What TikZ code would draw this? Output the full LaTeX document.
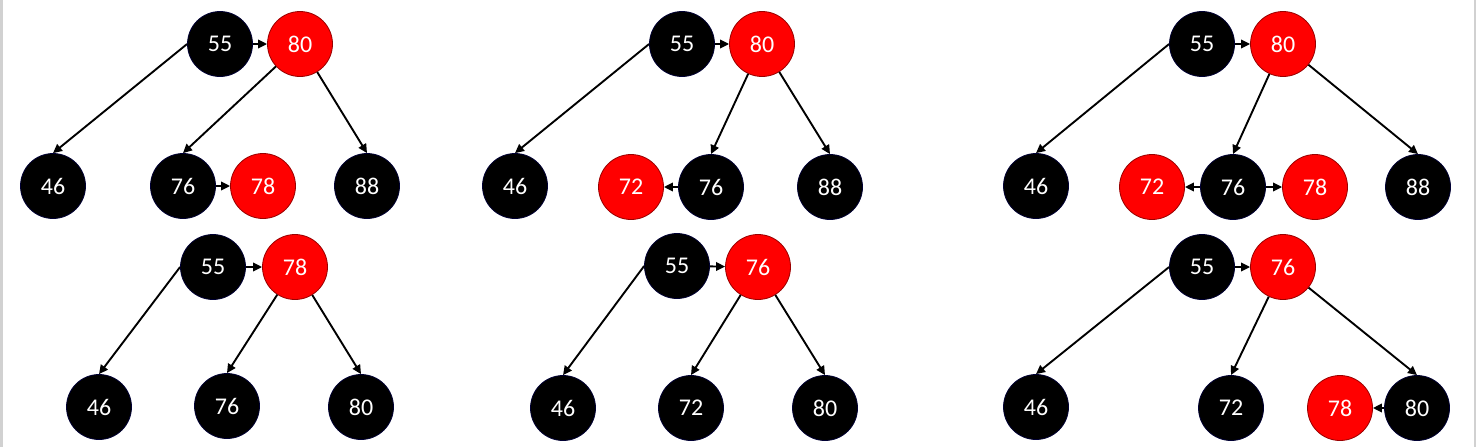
\documentclass[tikz,border=0pt]{standalone}
\usepackage{fontspec}
\setmainfont{Carlito}
\usetikzlibrary{arrows.meta}
\begin{document}
\begin{tikzpicture}[x=1pt,y=-1pt,
  blk/.style={circle,draw=black!80!blue,fill=black,line width=0.8pt,minimum size=65pt,inner sep=0pt,text=white,font=\fontsize{24}{24}\selectfont},
  rd/.style={blk,fill=red,draw=red!60!black},
  arr/.style={-{Triangle[length=9pt,width=8.5pt]},line width=1.9pt}]
\useasboundingbox (0,0) rectangle (1479,447);
\fill[white] (0,0) rectangle (1479,447);
\fill[black!18] (0,0) rectangle (3,447);
\fill[black!18] (1474,0) rectangle (1476,447);

% top left
\node[blk] (a55) at (220,44) {55};
\node[rd] (a80) at (300,44) {80};
\node[blk] (a46) at (53,186) {46};
\node[blk] (a76) at (183,186) {76};
\node[rd] (a78) at (263,186) {78};
\node[blk] (a88) at (367,186) {88};
\draw[arr] (a55) -- (a80);
\draw[arr] (a55.west) -- (a46.north);
\draw[arr] (a80) -- (a76.north);
\draw[arr] (a80) -- (a88.north);
\draw[arr] (a76) -- (a78);

% top middle
\node[blk] (b55) at (682,44) {55};
\node[rd] (b80) at (762,44) {80};
\node[blk] (b46) at (515,186) {46};
\node[rd] (b72) at (631,187) {72};
\node[blk] (b76) at (711,187) {76};
\node[blk] (b88) at (830,187) {88};
\draw[arr] (b55) -- (b80);
\draw[arr] (b55.west) -- (b46.north);
\draw[arr] (b80) -- (b76.north);
\draw[arr] (b80) -- (b88.north);
\draw[arr] (b76) -- (b72);

% top right
\node[blk] (c55) at (1202,44) {55};
\node[rd] (c80) at (1283,44) {80};
\node[blk] (c46) at (1036,186) {46};
\node[rd] (c72) at (1152,187) {72};
\node[blk] (c76) at (1233,187) {76};
\node[rd] (c78) at (1315,187) {78};
\node[blk] (c88) at (1418,187) {88};
\draw[arr] (c55) -- (c80);
\draw[arr] (c55.west) -- (c46.north);
\draw[arr] (c80) -- (c76.north);
\draw[arr] (c80) -- (c88.north);
\draw[arr] (c76) -- (c72);
\draw[arr] (c76) -- (c78);

% bottom left
\node[blk] (d55) at (213,267) {55};
\node[rd] (d78) at (295,267) {78};
\node[blk] (d46) at (99,407) {46};
\node[blk] (d76) at (227,406) {76};
\node[blk] (d80) at (361,407) {80};
\draw[arr] (d55) -- (d78);
\draw[arr] (d55.west) -- (d46.north);
\draw[arr] (d78) -- (d76.north);
\draw[arr] (d78) -- (d80.north);

% bottom middle
\node[blk] (e55) at (677,266) {55};
\node[rd] (e76) at (758,267) {76};
\node[blk] (e46) at (563,408) {46};
\node[blk] (e72) at (691,408) {72};
\node[blk] (e80) at (825,408) {80};
\draw[arr] (e55) -- (e76);
\draw[arr] (e55.west) -- (e46.north);
\draw[arr] (e76) -- (e72.north);
\draw[arr] (e76) -- (e80.north);

% bottom right
\node[blk] (f55) at (1202,267) {55};
\node[rd] (f76) at (1283,267) {76};
\node[blk] (f46) at (1036,407) {46};
\node[blk] (f72) at (1231,408) {72};
\node[rd] (f78) at (1340,408) {78};
\node[blk] (f80) at (1417,408) {80};
\draw[arr] (f55) -- (f76);
\draw[arr] (f55.west) -- (f46.north);
\draw[arr] (f76) -- (f72.north);
\draw[arr] (f76) -- (f80.north);
\draw[arr] (f80) -- (f78);
\end{tikzpicture}
\end{document}
